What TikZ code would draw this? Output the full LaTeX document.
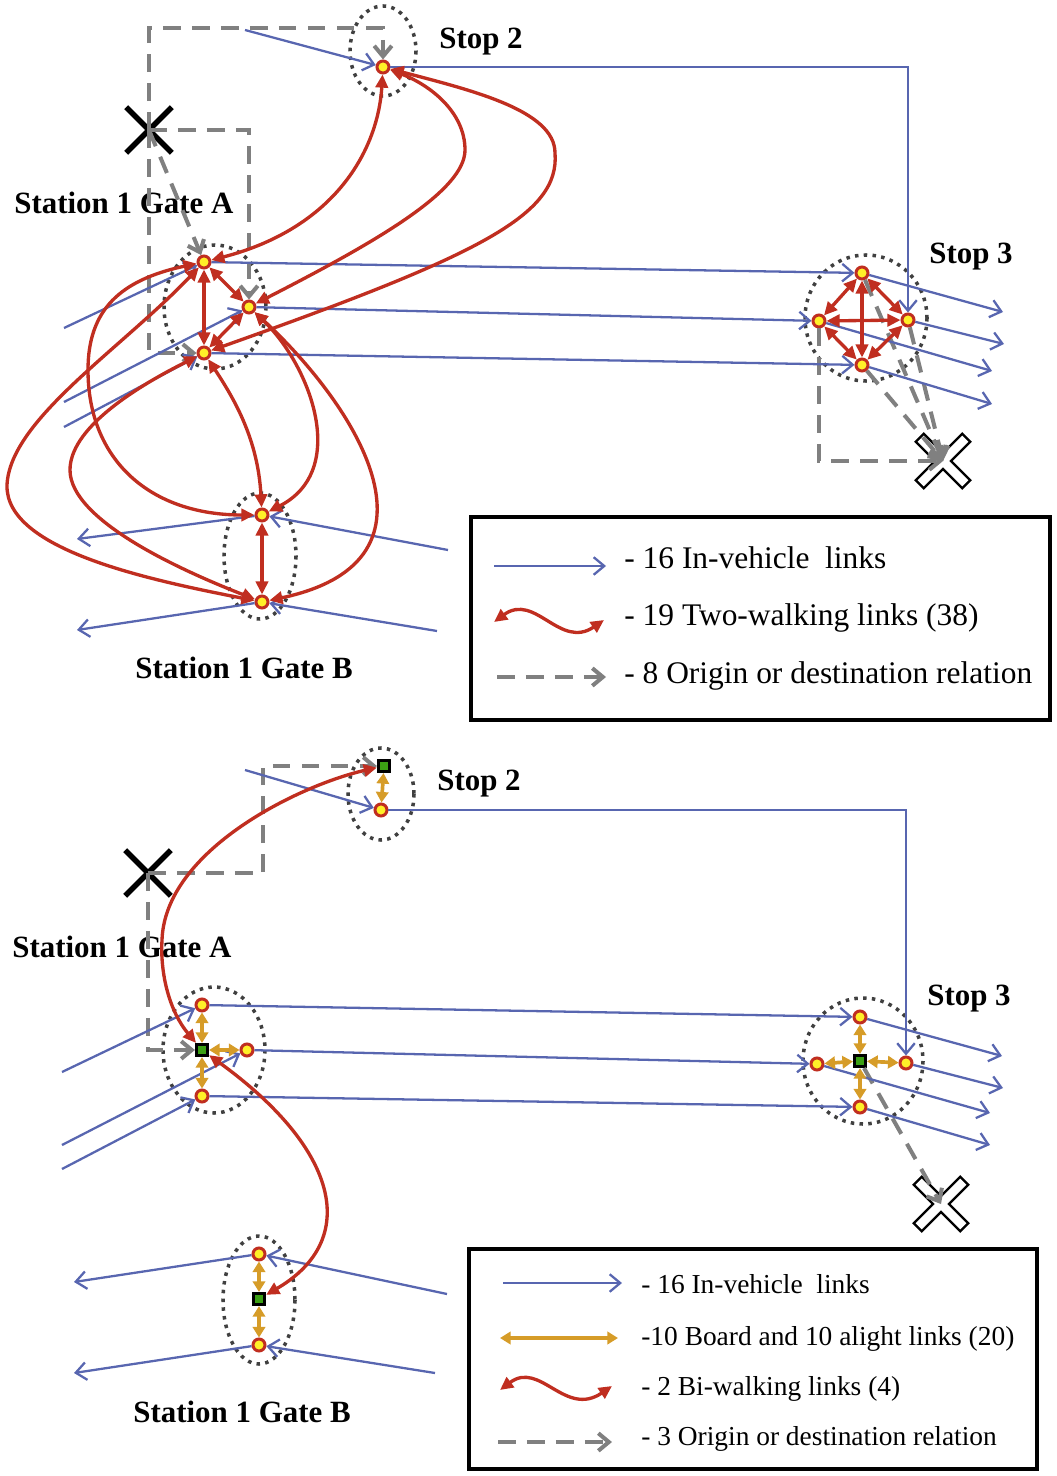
\documentclass[tikz,border=0pt]{standalone}
\usepackage{fontspec}
\setmainfont{Liberation Serif}
\usetikzlibrary{arrows.meta,shapes.misc}

\definecolor{vblue}{RGB}{88,102,176}
\definecolor{wred}{RGB}{192,46,32}
\definecolor{borange}{RGB}{214,156,40}
\definecolor{odgray}{RGB}{128,128,128}
\definecolor{zgray}{RGB}{64,64,64}
\definecolor{sqgreen}{RGB}{60,160,20}
\definecolor{dotyellow}{RGB}{255,240,40}

\begin{document}
\begin{tikzpicture}[x=0.02cm,y=-0.02cm,
  stopnode/.style={circle,draw=wred,fill=dotyellow,line width=1.7pt,minimum size=0.24cm,inner sep=0pt},
  boardsq/.style={rectangle,draw=black,fill=sqgreen,line width=1.8pt,minimum size=0.22cm,inner sep=0pt},
  zone/.style={draw=zgray,line width=2pt,dash pattern=on 2pt off 3pt},
  invl/.style={draw=vblue,line width=1.3pt,-{Straight Barb[length=6pt,width=10pt]}},
  walk/.style={draw=wred,line width=1.9pt,{Triangle[length=7.5pt,width=7pt]}-{Triangle[length=7.5pt,width=7pt]}},
  blink/.style={draw=borange,line width=2.1pt,{Triangle[length=6pt,width=7pt]}-{Triangle[length=6pt,width=7pt]}},
  odrel/.style={draw=odgray,line width=2.3pt,dash pattern=on 10pt off 6.5pt,-{Straight Barb[length=6pt,width=10pt]}},
  xmark/.style={cross out,draw=black,line width=3.2pt,minimum size=0.8cm,inner sep=0pt},
  xhollow/.style={cross out,draw=black,double=white,line width=1.4pt,double distance=5pt,line cap=rect,minimum size=0.72cm,inner sep=0pt},
  lbl/.style={anchor=base west,inner sep=0pt,font=\fontsize{17.6}{20}\selectfont\bfseries},
  legtxt/.style={anchor=base west,inner sep=0pt,font=\fontsize{17.9}{20}\selectfont},
  legtxtb/.style={anchor=base west,inner sep=0pt,font=\fontsize{15.6}{18}\selectfont},
  legbox/.style={draw=black,line width=1.8pt}
]
\useasboundingbox (0,0) rectangle (1056,1476);

% ---------- upper network ----------
\draw[zone] (383,51) ellipse [x radius=33, y radius=45];
\draw[zone] (215,307) ellipse [x radius=51, y radius=62];
\draw[zone] (260,556) ellipse [x radius=36, y radius=63];
\draw[zone] (866,318) ellipse [x radius=61, y radius=63];

\node[stopnode] (s2) at (383,67) {};
\node[stopnode] (a1) at (204,262) {};
\node[stopnode] (a2) at (249,307) {};
\node[stopnode] (a3) at (204,353) {};
\node[stopnode] (b1) at (262,515) {};
\node[stopnode] (b2) at (262,602) {};
\node[stopnode] (c1) at (862,273) {};
\node[stopnode] (c2) at (819,321) {};
\node[stopnode] (c3) at (908,320) {};
\node[stopnode] (c4) at (862,365) {};
\node[xmark] (x1) at (149,130) {};
\node[xhollow] (x2) at (943,461) {};

\node[lbl] (stopA) at (439,49) {Stop 2};
\node[lbl] (gateA) at (14,214) {Station 1 Gate A};
\node[lbl] (stopB) at (929,264) {Stop 3};
\node[lbl] (gateB) at (135,678) {Station 1 Gate B};

\coordinate (k1) at (383,28);
\draw[odrel] (x1.center) |- (k1) -- (s2);
\draw[odrel] (x1.center) -| (a2);
\draw[odrel] (x1.center) -- (a1);
\draw[odrel] (x1.center) |- (a3);
\draw[odrel] (c1) -- (x2.center);
\draw[odrel] (c3) -- (x2.center);
\draw[odrel] (c4) -- (x2.center);
\draw[odrel] (c2) |- (x2.center);

\coordinate (in2) at (245,30);
\coordinate (inA1) at (64,328);
\coordinate (inA2) at (64,402);
\coordinate (inA3) at (64,427);
\coordinate (outC1) at (1003,312);
\coordinate (outC3) at (1004,344);
\coordinate (outC2) at (992,371);
\coordinate (outC4) at (992,404);
\coordinate (inB1) at (448,550);
\coordinate (outB1) at (77,539);
\coordinate (inB2) at (437,631);
\coordinate (outB2) at (77,630);
\draw[invl] (in2) -- (s2);
\draw[invl] (s2) -| (c3);
\draw[invl] (inA1) -- (a1);
\draw[invl] (inA2) -- (a2);
\draw[invl] (inA3) -- (a3);
\draw[invl] (a1) -- (c1);
\draw[invl] (a2) -- (c2);
\draw[invl] (a3) -- (c4);
\draw[invl] (c1) -- (outC1);
\draw[invl] (c3) -- (outC3);
\draw[invl] (c2) -- (outC2);
\draw[invl] (c4) -- (outC4);
\draw[invl] (inB1) -- (b1);
\draw[invl] (b1) -- (outB1);
\draw[invl] (inB2) -- (b2);
\draw[invl] (b2) -- (outB2);

\draw[walk] (a1) .. controls (335,228) and (378,150) .. (s2);
\draw[walk] (s2) .. controls (430,85) and (465,112) .. (465,150) .. controls (465,190) and (380,240) .. (a2);
\draw[walk] (s2) .. controls (470,90) and (555,110) .. (555,153) .. controls (560,215) and (480,255) .. (a3);
\draw[walk] (a1) -- (a2);
\draw[walk] (a1) -- (a3);
\draw[walk] (a2) -- (a3);
\draw[walk] (a3) .. controls (235,400) and (258,440) .. (b1);
\draw[walk] (a2) .. controls (310,365) and (350,470) .. (b1);
\draw[walk] (a2) .. controls (350,400) and (460,560) .. (b2);
\draw[walk] (a1) .. controls (120,280) and (88,310) .. (88,370) .. controls (88,460) and (150,515) .. (b1);
\draw[walk] (a1) .. controls (120,350) and (10,420) .. (7,485) .. controls (5,550) and (150,580) .. (b2);
\draw[walk] (a3) .. controls (130,390) and (70,430) .. (70,470) .. controls (70,520) and (180,570) .. (b2);
\draw[walk] (b1) -- (b2);
\draw[walk] (c1) -- (c2);
\draw[walk] (c1) -- (c3);
\draw[walk] (c1) -- (c4);
\draw[walk] (c2) -- (c3);
\draw[walk] (c2) -- (c4);
\draw[walk] (c3) -- (c4);

\draw[legbox] (471,517) rectangle (1050,720);
\coordinate (l1a) at (494,566);
\coordinate (l1b) at (606,566);
\coordinate (l2a) at (494,622);
\coordinate (l2b) at (604,620);
\coordinate (l3a) at (497,677);
\coordinate (l3b) at (606,677);
\draw[invl] (l1a) -- (l1b);
\draw[walk] (l2a) .. controls (535,592) and (560,650) .. (l2b);
\draw[odrel] (l3a) -- (l3b);
\node[legtxt] (t1) at (624,568) {- 16 In-vehicle\ \ links};
\node[legtxt] (t2) at (624,625) {- 19 Two-walking links (38)};
\node[legtxt] (t3) at (624,683) {- 8 Origin or destination relation};

% ---------- lower network ----------
\draw[zone] (381,794) ellipse [x radius=33, y radius=46];
\draw[zone] (214,1050) ellipse [x radius=51, y radius=63];
\draw[zone] (259,1300) ellipse [x radius=36, y radius=64];
\draw[zone] (863,1061) ellipse [x radius=60, y radius=63];

\node[boardsq] (sq2) at (384,766) {};
\node[stopnode] (s2b) at (381,810) {};
\node[stopnode] (a1b) at (202,1005) {};
\node[boardsq] (sqA) at (202,1050) {};
\node[stopnode] (a2b) at (247,1050) {};
\node[stopnode] (a3b) at (202,1096) {};
\node[stopnode] (b1b) at (259,1254) {};
\node[boardsq] (sqB) at (259,1299) {};
\node[stopnode] (b2b) at (259,1345) {};
\node[stopnode] (c1b) at (860,1017) {};
\node[stopnode] (c2b) at (817,1064) {};
\node[boardsq] (sqC) at (860,1061) {};
\node[stopnode] (c3b) at (906,1063) {};
\node[stopnode] (c4b) at (860,1107) {};
\node[xmark] (x3) at (148,873) {};
\node[xhollow] (x4) at (941,1204) {};

\node[lbl] (stopAb) at (437,790) {Stop 2};
\node[lbl] (gateAb) at (12,957) {Station 1 Gate A};
\node[lbl] (stopBb) at (927,1005) {Stop 3};
\node[lbl] (gateBb) at (133,1422) {Station 1 Gate B};

\coordinate (k3) at (263,766);
\draw[odrel] (x3.center) -| (k3) -- (sq2);
\draw[odrel] (x3.center) |- (sqA);
\draw[odrel] (sqC) -- (x4.center);

\coordinate (in2b) at (245,770);
\coordinate (inA1b) at (62,1072);
\coordinate (inA2b) at (62,1145);
\coordinate (inA3b) at (62,1169);
\coordinate (outC1b) at (1002,1056);
\coordinate (outC3b) at (1003,1088);
\coordinate (outC2b) at (990,1113);
\coordinate (outC4b) at (990,1145);
\coordinate (inB1b) at (447,1294);
\coordinate (outB1b) at (74,1282);
\coordinate (inB2b) at (435,1373);
\coordinate (outB2b) at (74,1373);
\draw[invl] (in2b) -- (s2b);
\draw[invl] (s2b) -| (c3b);
\draw[invl] (inA1b) -- (a1b);
\draw[invl] (inA2b) -- (a2b);
\draw[invl] (inA3b) -- (a3b);
\draw[invl] (a1b) -- (c1b);
\draw[invl] (a2b) -- (c2b);
\draw[invl] (a3b) -- (c4b);
\draw[invl] (c1b) -- (outC1b);
\draw[invl] (c3b) -- (outC3b);
\draw[invl] (c2b) -- (outC2b);
\draw[invl] (c4b) -- (outC4b);
\draw[invl] (inB1b) -- (b1b);
\draw[invl] (b1b) -- (outB1b);
\draw[invl] (inB2b) -- (b2b);
\draw[invl] (b2b) -- (outB2b);

\draw[blink] (sq2) -- (s2b);
\draw[blink] (sqA) -- (a1b);
\draw[blink] (sqA) -- (a2b);
\draw[blink] (sqA) -- (a3b);
\draw[blink] (sqB) -- (b1b);
\draw[blink] (sqB) -- (b2b);
\draw[blink] (sqC) -- (c1b);
\draw[blink] (sqC) -- (c2b);
\draw[blink] (sqC) -- (c3b);
\draw[blink] (sqC) -- (c4b);

\draw[walk] (sqA) .. controls (170,1012) and (160,975) .. (162,940) .. controls (165,850) and (300,785) .. (sq2);
\draw[walk] (sqA) .. controls (340,1150) and (360,1240) .. (sqB);

\draw[legbox] (469,1249) rectangle (1037,1469);
\coordinate (m1a) at (503,1283);
\coordinate (m1b) at (622,1283);
\coordinate (m2a) at (500,1338);
\coordinate (m2b) at (618,1338);
\coordinate (m3a) at (500,1390);
\coordinate (m3b) at (612,1386);
\coordinate (m4a) at (498,1442);
\coordinate (m4b) at (612,1442);
\draw[invl] (m1a) -- (m1b);
\draw[blink] (m2a) -- (m2b);
\draw[walk] (m3a) .. controls (540,1360) and (565,1418) .. (m3b);
\draw[odrel] (m4a) -- (m4b);
\node[legtxtb] (u1) at (641,1293) {- 16 In-vehicle\ \ links};
\node[legtxtb] (u2) at (641,1345) {-10 Board and 10 alight links (20)};
\node[legtxtb] (u3) at (641,1395) {- 2 Bi-walking links (4)};
\node[legtxtb] (u4) at (641,1445) {- 3 Origin or destination relation};
\end{tikzpicture}
\end{document}
